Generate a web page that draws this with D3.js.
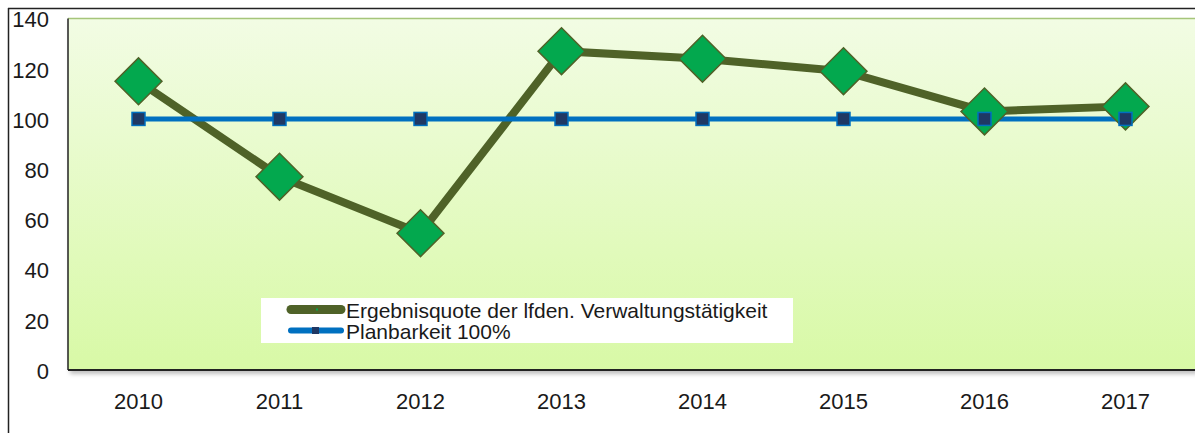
<!DOCTYPE html>
<html>
<head>
<meta charset="utf-8">
<script src="https://cdn.jsdelivr.net/npm/d3@7"></script>
<style>
  body { margin: 0; background: #fff; }
  svg { display: block; font-family: "Liberation Sans", Arial, sans-serif; }
</style>
</head>
<body>
<svg id="chart" width="1195" height="433"></svg>
<script>
// data
var years = ["2010", "2011", "2012", "2013", "2014", "2015", "2016", "2017"];
var quote = [115, 77, 54.5, 127, 124, 119, 103, 105];
var plan = [100, 100, 100, 100, 100, 100, 100, 100];
var yTicks = [0, 20, 40, 60, 80, 100, 120, 140];
var legendLabels = ["Ergebnisquote der lfden. Verwaltungstätigkeit", "Planbarkeit 100%"];

var svg = d3.select("#chart");
var plotLeft = 68, plotRight = 1196, plotTop = 18.5, plotBottom = 370;

var x = d3.scaleBand().domain(years).range([plotLeft, plotRight]);
var y = d3.scaleLinear().domain([0, 140]).range([plotBottom, plotTop]);

var defs = svg.append("defs");
var grad = defs.append("linearGradient").attr("id", "bg")
  .attr("x1", 0).attr("y1", 0).attr("x2", 0).attr("y2", 1);
grad.append("stop").attr("offset", "0%").attr("stop-color", "#f2fce4");
grad.append("stop").attr("offset", "100%").attr("stop-color", "#d8f9a6");
var shadow = defs.append("filter").attr("id", "shadow")
  .attr("x", "-5%").attr("y", "-5%").attr("width", "110%").attr("height", "115%");
shadow.append("feDropShadow").attr("dx", 2).attr("dy", 4).attr("stdDeviation", 2)
  .attr("flood-color", "#000").attr("flood-opacity", 0.25);

// outer frame
svg.append("line").attr("x1", 8.5).attr("x2", 8.5).attr("y1", 8).attr("y2", 433)
  .attr("stroke", "#222").attr("stroke-width", 1.5);
svg.append("line").attr("x1", 8).attr("x2", 1195).attr("y1", 8.5).attr("y2", 8.5)
  .attr("stroke", "#222").attr("stroke-width", 1.5);

// plot area
svg.append("rect").attr("x", plotLeft).attr("y", plotTop)
  .attr("width", plotRight - plotLeft).attr("height", plotBottom - plotTop)
  .attr("fill", "url(#bg)").attr("filter", "url(#shadow)");
svg.append("line").attr("x1", plotLeft).attr("x2", plotRight).attr("y1", plotTop).attr("y2", plotTop)
  .attr("stroke", "#a6c57a").attr("stroke-width", 1.5);
svg.append("line").attr("x1", plotLeft).attr("x2", plotLeft).attr("y1", plotTop).attr("y2", plotBottom)
  .attr("stroke", "#222").attr("stroke-width", 1.5);
svg.append("line").attr("x1", plotLeft).attr("x2", plotRight).attr("y1", plotBottom).attr("y2", plotBottom)
  .attr("stroke", "#222").attr("stroke-width", 2);

// y labels
svg.append("g").selectAll("text").data(yTicks).join("text")
  .attr("x", 49).attr("y", function (d) { return y(d) + 1; })
  .attr("dy", "0.36em")
  .attr("text-anchor", "end")
  .attr("font-size", 22)
  .attr("fill", "#1a1a1a")
  .text(function (d) { return d; });

// x labels
svg.append("g").selectAll("text").data(years).join("text")
  .attr("x", function (d) { return x(d) + x.bandwidth() / 2; })
  .attr("y", 408.5)
  .attr("text-anchor", "middle")
  .attr("font-size", 22)
  .attr("fill", "#1a1a1a")
  .text(function (d) { return d; });

var cx = function (d, i) { return x(years[i]) + x.bandwidth() / 2; };

// quote series
var line = d3.line().x(cx).y(function (d) { return y(d); });
svg.append("path").datum(quote).attr("d", line)
  .attr("fill", "none").attr("stroke", "#4f6228").attr("stroke-width", 8);

// plan series
svg.append("path").datum(plan).attr("d", line)
  .attr("fill", "none").attr("stroke", "#0070c0").attr("stroke-width", 5);

var diamond = d3.symbol().type(d3.symbolSquare).size(1100);
svg.append("g").selectAll("path").data(quote).join("path")
  .attr("d", diamond)
  .attr("transform", function (d, i) { return "translate(" + cx(d, i) + "," + y(d) + ") rotate(45)"; })
  .attr("fill", "#03a84e").attr("stroke", "#4f6228").attr("stroke-width", 1.5);

svg.append("g").selectAll("rect").data(plan).join("rect")
  .attr("x", function (d, i) { return cx(d, i) - 6.5; })
  .attr("y", function (d) { return y(d) - 6.5; })
  .attr("width", 13).attr("height", 13)
  .attr("fill", "#1f3864").attr("stroke", "#0070c0").attr("stroke-width", 1.5);

// legend
var lg = svg.append("g");
lg.append("rect").attr("x", 261).attr("y", 298).attr("width", 532).attr("height", 45).attr("fill", "#fff");
var legendColors = ["#4f6228", "#0070c0"];
var legendWidths = [9, 6];
legendLabels.forEach(function (label, i) {
  var ly = 309.5 + i * 21;
  lg.append("line").attr("x1", 291).attr("x2", 341).attr("y1", ly).attr("y2", ly)
    .attr("stroke", legendColors[i]).attr("stroke-width", legendWidths[i]).attr("stroke-linecap", "round");
  if (i === 0) {
    lg.append("rect").attr("x", 316).attr("y", ly - 1).attr("width", 2).attr("height", 2).attr("fill", "#03a84e");
  } else {
    lg.append("rect").attr("x", 312).attr("y", ly - 3.5).attr("width", 7).attr("height", 7).attr("fill", "#1f3864");
  }
  lg.append("text").attr("x", 346).attr("y", ly + 1).attr("dy", "0.36em")
    .attr("font-size", 21).attr("fill", "#1a1a1a").text(label);
});
</script>
</body>
</html>
